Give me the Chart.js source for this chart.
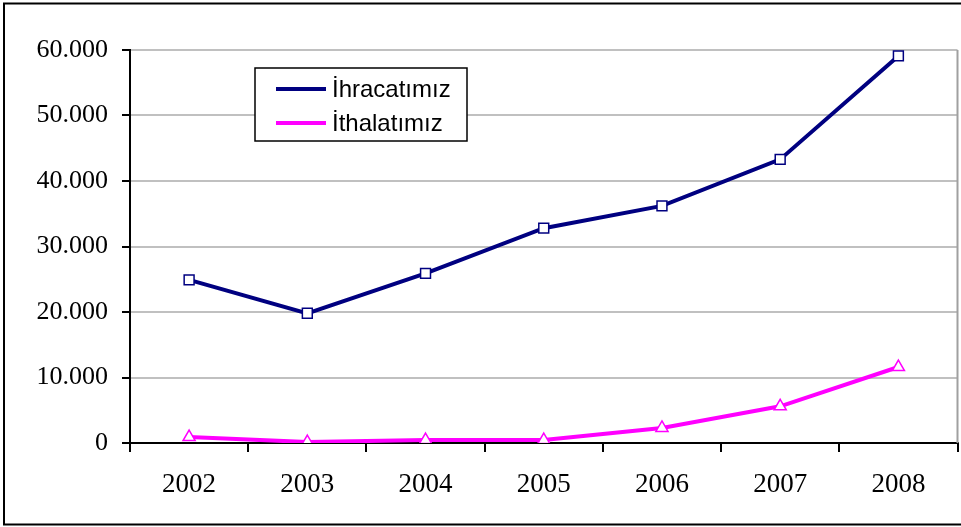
<!DOCTYPE html>
<html>
<head>
<meta charset="utf-8">
<script src="https://cdn.jsdelivr.net/npm/chart.js@4"></script>
<style>
  body { margin: 0; background: #fff; overflow: hidden; }
  #wrap { width: 961px; height: 527px; overflow: hidden; }
  canvas { display: block; }
</style>
</head>
<body>
<div id="wrap"><canvas id="chart" width="966" height="527"></canvas></div>
<script>
// Data
const years = ["2002", "2003", "2004", "2005", "2006", "2007", "2008"];
const ihracat = [24900, 19800, 25900, 32800, 36200, 43300, 59100];
const ithalat = [900, 150, 450, 450, 2300, 5600, 11600];
const yTicks = [0, 10000, 20000, 30000, 40000, 50000, 60000];

const serif = "'Liberation Serif', 'Times New Roman', serif";
const sans = "'Liberation Sans', Arial, sans-serif";

// black frame round the whole chart + gray right edge of the plot
const framePlugin = {
    id: "frame",
    afterDraw(chart) {
        const ctx = chart.ctx;
        const a = chart.chartArea;
        ctx.save();
        ctx.strokeStyle = "#a0a0a0";
        ctx.lineWidth = 2;
        ctx.beginPath();
        ctx.moveTo(a.right, a.top);
        ctx.lineTo(a.right, a.bottom);
        ctx.stroke();
        ctx.strokeStyle = "#000";
        ctx.lineWidth = 2;
        ctx.strokeRect(4, 3.5, 1000, 521);
        ctx.restore();
    }
};

// boxed legend sitting inside the plot
const legendPlugin = {
    id: "boxLegend",
    afterDraw(chart) {
        const ctx = chart.ctx;
        const x = 255, y = 68, w = 212, h = 73;
        ctx.save();
        ctx.fillStyle = "#fff";
        ctx.fillRect(x, y, w, h);
        ctx.strokeStyle = "#000";
        ctx.lineWidth = 1.5;
        ctx.strokeRect(x, y, w, h);
        const rows = [89, 123];
        chart.data.datasets.forEach((ds, i) => {
            const cy = rows[i];
            ctx.strokeStyle = ds.borderColor;
            ctx.lineWidth = 4;
            ctx.beginPath();
            ctx.moveTo(276, cy);
            ctx.lineTo(326, cy);
            ctx.stroke();
            ctx.fillStyle = "#fff";
            ctx.lineWidth = 1.5;
            ctx.strokeStyle = ds.pointBorderColor;
            Chart.helpers.drawPoint(ctx, { pointStyle: ds.pointStyle, rotation: 0, borderWidth: 1.5 }, 301, cy - (ds.pointStyle === "triangle" ? 1 : 0));
            ctx.fillStyle = "#000";
            ctx.font = "24px " + sans;
            ctx.textBaseline = "middle";
            ctx.fillText(ds.label, 332, cy + 1);
        });
        ctx.restore();
    }
};

new Chart(document.getElementById("chart"), {
    type: "line",
    data: {
        labels: years,
        datasets: [{
            label: "İhracatımız",
            data: ihracat,
            borderColor: "#000080",
            borderWidth: 4,
            pointStyle: "rect",
            pointRadius: 7,
            pointBorderColor: "#000080",
            pointBackgroundColor: "#fff",
            pointBorderWidth: 1.5,
            tension: 0
        }, {
            label: "İthalatımız",
            data: ithalat,
            borderColor: "#ff00ff",
            borderWidth: 4,
            pointStyle: "triangle",
            pointRadius: 7,
            pointBorderColor: "#ff00ff",
            pointBackgroundColor: "#fff",
            pointBorderWidth: 1.5,
            tension: 0
        }]
    },
    options: {
        responsive: false,
        animation: false,
        layout: { padding: { left: 0, top: 50, right: 4, bottom: 0 } },
        plugins: {
            legend: { display: false },
            tooltip: { enabled: false }
        },
        scales: {
            x: {
                offset: true,
                grid: {
                    offset: true,
                    drawOnChartArea: false,
                    drawTicks: true,
                    tickLength: 9,
                    tickColor: "#000",
                    lineWidth: 2
                },
                border: { color: "#000", width: 2 },
                ticks: {
                    color: "#000",
                    font: { family: serif, size: 27 },
                    padding: 17,
                    maxRotation: 0
                },
                afterFit(scale) { scale.height = 84; }
            },
            y: {
                min: 0,
                max: 60000,
                afterBuildTicks(scale) { scale.ticks = yTicks.map(v => ({ value: v })); },
                grid: {
                    color: "#c0c0c0",
                    lineWidth: 2,
                    tickColor: "#000",
                    tickLength: 8
                },
                border: { color: "#000", width: 2 },
                ticks: {
                    color: "#000",
                    font: { family: serif, size: 26 },
                    padding: 14,
                    callback: v => v.toLocaleString("de-DE")
                },
                afterFit(scale) { scale.width = 130; }
            }
        }
    },
    plugins: [framePlugin, legendPlugin]
});
</script>
</body>
</html>
